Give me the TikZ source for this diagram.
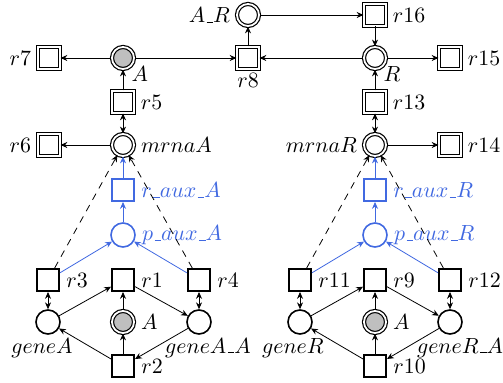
\documentclass[tikz,border=0pt]{standalone}
\usetikzlibrary{arrows.meta}
\definecolor{auxblue}{RGB}{65,105,225}
\newcommand{\usc}{\mbox{\kern.06em\vbox{\hrule width.3em}}}
\begin{document}
\begin{tikzpicture}[x=0.5pt,y=-0.5pt,
  >={Stealth[length=3.4pt,width=3pt]},
  every node/.style={font=\fontsize{10.95}{13}\selectfont},
  place/.style={circle,draw,thick,minimum size=12pt,inner sep=0pt},
  trans/.style={rectangle,draw,thick,minimum size=11.2pt,inner sep=0pt},
  dplace/.style={circle,draw,line width=0.6pt,double,double distance=0.9pt,minimum size=11pt,inner sep=0pt},
  dtrans/.style={rectangle,draw,line width=0.5pt,double,double distance=0.9pt,minimum size=11pt,inner sep=0pt},
  gplace/.style={dplace,fill=black!25},
  auxp/.style={place,draw=auxblue},
  auxt/.style={trans,draw=auxblue},
  arc/.style={->},
  biarc/.style={<->},
  auxarc/.style={->,auxblue},
  dasharc/.style={->,dashed,dash pattern=on 3.5pt off 3pt},
  every label/.style={inner sep=3pt,font=\fontsize{10.95}{13}\selectfont},
  lb/.style={inner sep=1.5pt}
]
\useasboundingbox (0,0) rectangle (503,383);
% top part
\node[dplace,label=left:$A\usc R$] (AR) at (248,15) {};
\node[dtrans,label=right:$r16$] (r16) at (375,15) {};
\node[dtrans,label=left:$r7$] (r7) at (49,58) {};
\node[gplace,label={[inner sep=0pt]south east:$A$}] (A) at (123,58) {};
\node[dtrans,label={[lb]below:$r8$}] (r8) at (248,58) {};
\node[dplace,label={[inner sep=0pt]south east:$R$}] (R) at (375,58) {};
\node[dtrans,label=right:$r15$] (r15) at (450,58) {};
\node[dtrans,label=right:$r5$] (r5) at (123,102) {};
\node[dtrans,label=right:$r13$] (r13) at (375,102) {};
\node[dtrans,label=left:$r6$] (r6) at (49,145) {};
\node[dplace,label=right:$mrnaA$] (mA) at (123,145) {};
\node[dplace,label=left:$mrnaR$] (mR) at (375,145) {};
\node[dtrans,label=right:$r14$] (r14) at (450,145) {};
% aux
\node[auxt,label={[text=auxblue]right:$r\usc aux\usc A$}] (raA) at (123,190) {};
\node[auxt,label={[text=auxblue]right:$r\usc aux\usc R$}] (raR) at (375,190) {};
\node[auxp,label={[text=auxblue]right:$p\usc aux\usc A$}] (paA) at (123,235) {};
\node[auxp,label={[text=auxblue]right:$p\usc aux\usc R$}] (paR) at (375,235) {};
% bottom left
\node[trans,label=right:$r3$] (r3) at (48,280) {};
\node[trans,label=right:$r1$] (r1) at (123,280) {};
\node[trans,label=right:$r4$] (r4) at (199,280) {};
\node[place,label={[lb,xshift=-3pt]below:$geneA$}] (gA) at (48,322) {};
\node[gplace,label=right:$A$] (A1) at (123,322) {};
\node[place,label={[lb,xshift=4.5pt]below:$geneA\usc A$}] (gAA) at (199,322) {};
\node[trans,label=right:$r2$] (r2) at (123,366) {};
% bottom right
\node[trans,label=right:$r11$] (r11) at (300,280) {};
\node[trans,label=right:$r9$] (r9) at (375,280) {};
\node[trans,label=right:$r12$] (r12) at (450,280) {};
\node[place,label={[lb,xshift=-3.5pt]below:$geneR$}] (gR) at (300,322) {};
\node[gplace,label=right:$A$] (A2) at (375,322) {};
\node[place,label={[lb,xshift=5pt]below:$geneR\usc A$}] (gRA) at (450,322) {};
\node[trans,label=right:$r10$] (r10) at (375,366) {};
% top arcs
\draw[arc] (A) -- (r7);
\draw[arc] (A) -- (r8);
\draw[arc] (r8) -- (AR);
\draw[arc] (AR) -- (r16);
\draw[arc] (r16) -- (R);
\draw[arc] (R) -- (r8);
\draw[arc] (R) -- (r15);
\draw[arc] (r5) -- (A);
\draw[arc] (r13) -- (R);
\draw[biarc] (r5) -- (mA);
\draw[biarc] (r13) -- (mR);
\draw[arc] (mA) -- (r6);
\draw[arc] (mR) -- (r14);
% aux arcs
\draw[auxarc] (raA) -- (mA);
\draw[auxarc] (paA) -- (raA);
\draw[auxarc] (r3) -- (paA);
\draw[auxarc] (r4) -- (paA);
\draw[auxarc] (raR) -- (mR);
\draw[auxarc] (paR) -- (raR);
\draw[auxarc] (r11) -- (paR);
\draw[auxarc] (r12) -- (paR);
\draw[dasharc] (r3) -- (mA);
\draw[dasharc] (r4) -- (mA);
\draw[dasharc] (r11) -- (mR);
\draw[dasharc] (r12) -- (mR);
% bottom left arcs
\draw[biarc] (r3) -- (gA);
\draw[biarc] (r4) -- (gAA);
\draw[arc] (gA) -- (r1);
\draw[arc] (A1) -- (r1);
\draw[arc] (r1) -- (gAA);
\draw[arc] (gAA) -- (r2);
\draw[arc] (r2) -- (A1);
\draw[arc] (r2) -- (gA);
% bottom right arcs
\draw[biarc] (r11) -- (gR);
\draw[biarc] (r12) -- (gRA);
\draw[arc] (gR) -- (r9);
\draw[arc] (A2) -- (r9);
\draw[arc] (r9) -- (gRA);
\draw[arc] (gRA) -- (r10);
\draw[arc] (r10) -- (A2);
\draw[arc] (r10) -- (gR);
\end{tikzpicture}
\end{document}
